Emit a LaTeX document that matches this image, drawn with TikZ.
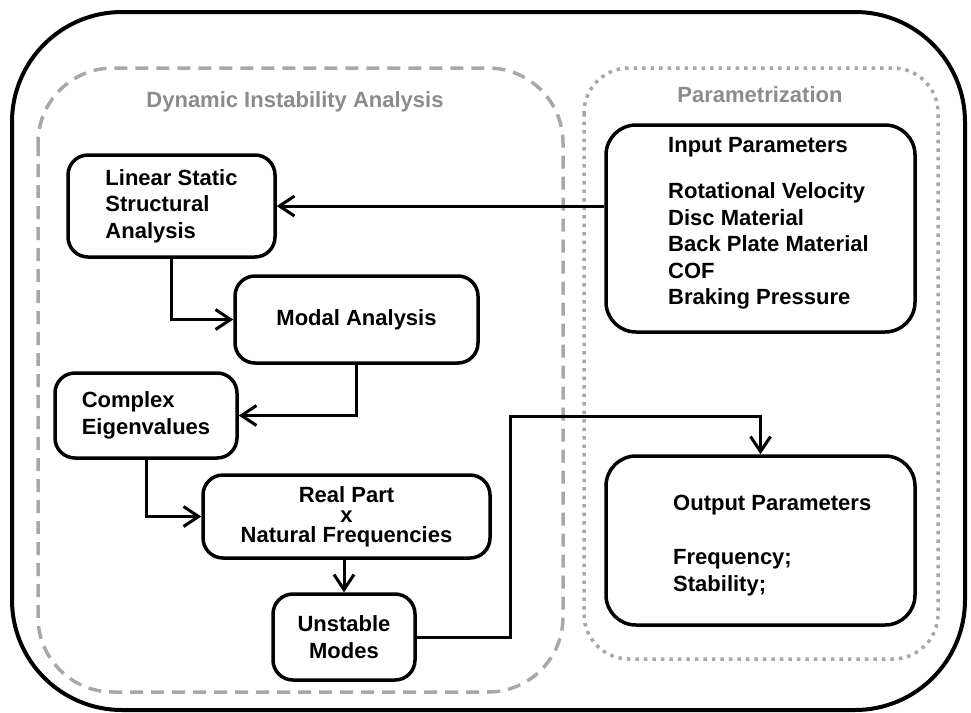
\documentclass[tikz,border=0pt]{standalone}
\usepackage{fontspec}
\setmainfont{Liberation Sans}
\usetikzlibrary{arrows.meta}
\definecolor{dashgray}{HTML}{A8A8A8}
\definecolor{titlegray}{HTML}{8C8C8C}
\begin{document}
\begin{tikzpicture}[x=1pt,y=-1pt,
  txt/.style={font=\bfseries\fontsize{22}{26.5}\selectfont},
  box/.style={draw, line width=3.5pt, rounded corners=20pt, inner sep=0pt, txt},
  bigbox/.style={box, rounded corners=30pt},
  grouptitle/.style={font=\bfseries\fontsize{22}{26.5}\selectfont, text=titlegray},
  conn/.style={line width=3pt, -{Straight Barb[length=15pt,width=20pt,line width=3pt]}}
]
\useasboundingbox (0,0) rectangle (971,712);
\fill[white] (0,0) rectangle (971,712);

% containers
\draw[line width=4pt, rounded corners=110pt] (12,12) rectangle (965,710);
\draw[dashgray, line width=3.5pt, dash pattern=on 13pt off 8pt, rounded corners=75pt] (38,68) rectangle (563,692);
\draw[dashgray, line width=3.5pt, dash pattern=on 3.5pt off 5pt, rounded corners=45pt] (584,68) rectangle (938,659);

\node[grouptitle] (dyntitle) at (295,102) {Dynamic Instability Analysis};
\node[grouptitle] (partitle) at (760,95) {Parametrization};

% process boxes
\node[box, align=left, minimum width=207pt, minimum height=102pt] (lin) at (171.5,206) {Linear Static\\Structural\\Analysis};
\node[box, align=center, minimum width=243pt, minimum height=87pt] (modal) at (356.5,319.5) {Modal Analysis};
\node[box, align=left, minimum width=182pt, minimum height=85pt] (cplx) at (146,415.5) {Complex\\Eigenvalues};
\node[box, align=center, minimum width=287pt, minimum height=83pt, font=\bfseries\fontsize{22}{20}\selectfont] (real) at (346.5,516.5) {Real Part\\x\\Natural Frequencies};
\node[box, align=center, minimum width=142pt, minimum height=86pt] (unst) at (344,637) {Unstable\\Modes};

% parameter boxes
\node[bigbox, minimum width=309pt, minimum height=207pt] (inp) at (760.5,228.5) {};
\node[txt, align=left, anchor=north west, inner sep=0pt] (inptxt) at (668,137) {Input Parameters\\[20pt]Rotational Velocity\\Disc Material\\Back Plate Material\\COF\\Braking Pressure};
\node[bigbox, minimum width=309pt, minimum height=169pt] (outp) at (760.5,540.5) {};
\node[txt, align=left, anchor=north west, inner sep=0pt] (outtxt) at (673,495) {Output Parameters\\[27.5pt]Frequency;\\Stability;};

\coordinate (bend) at (510,416);

% connectors
\draw[conn] (lin.east -| inp.west) -- (lin.east);
\draw[conn] (lin.south) |- (modal.west);
\draw[conn] (modal.south) |- (cplx.east);
\draw[conn] (cplx.south) |- (real.west);
\draw[conn] (unst.north |- real.south) -- (unst.north);
\draw[conn] (unst.east) -| (bend) -| (outp.north);
\end{tikzpicture}
\end{document}
